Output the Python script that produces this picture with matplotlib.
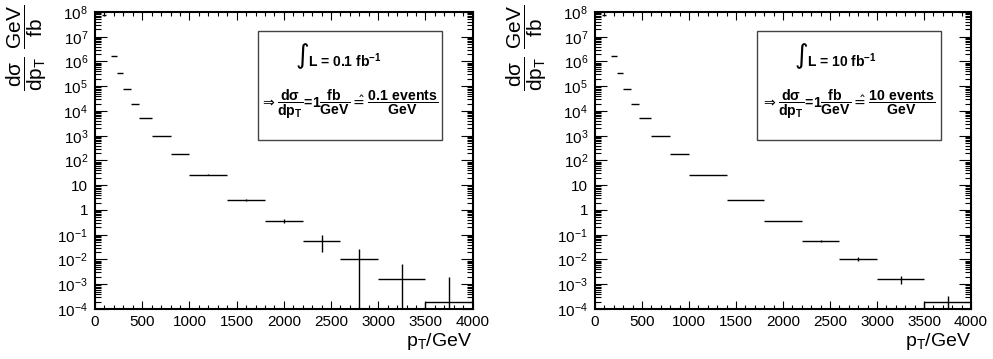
import numpy as np
import matplotlib
matplotlib.use("Agg")
import matplotlib.pyplot as plt
from matplotlib.ticker import LogLocator, MultipleLocator, FuncFormatter, NullFormatter

plt.rcParams['font.family'] = ['Liberation Sans', 'DejaVu Sans']
plt.rcParams['mathtext.fontset'] = 'dejavusans'

# bins (GeV) and cross section values (fb/GeV), same for both panels
bin_lo = [75, 170, 230, 300, 380, 470, 600, 800, 1000, 1400, 1800, 2200, 2600, 3000, 3500]
bin_hi = [120, 230, 300, 380, 470, 600, 800, 1000, 1400, 1800, 2200, 2600, 3000, 3500, 4000]
xsec = [7.8e7, 1.7e6, 3.5e5, 7.8e4, 2.0e4, 5.2e3, 9.8e2, 1.8e2, 27, 2.5, 0.36,
        0.057, 0.0105, 0.00165, 1.9e-4]

# statistical errors, 0.1 fb^-1
err_up_01 = [0, 0, 0, 0, 0, 0, 0, 0, 0.6, 0.24, 0.093, 0.038, 0.0155, 0.0052, 0.0018]
err_dn_01 = [0, 0, 0, 0, 0, 0, 0, 0, 0.6, 0.22, 0.07, 0.036, 0.0105, 0.00165, 1.9e-4]
# 10 fb^-1
err_up_10 = [0, 0, 0, 0, 0, 0, 0, 0, 0.06, 0.024, 0.009, 0.0055, 0.0021, 0.00047, 1.6e-4]
err_dn_10 = [0, 0, 0, 0, 0, 0, 0, 0, 0.06, 0.022, 0.008, 0.005, 0.0018, 0.00059, 1.9e-4]

lumi_labels = ['0.1', '10']

fig = plt.figure(figsize=(9.93, 3.59), dpi=100)
ax_pos = [[0.0957, 0.1393, 0.3803, 0.8273], [0.5992, 0.1393, 0.3787, 0.8273]]


def ylab(v, pos):
    e = int(round(np.log10(v)))
    if e == 0:
        return '1'
    if e == 1:
        return '10'
    return r'$\mathregular{10^{%d}}$' % e


def panel(pos, up, dn, lumi):
    ax = fig.add_axes(pos)
    ax.set_yscale('log')
    lo = np.array(bin_lo)
    hi = np.array(bin_hi)
    y = np.array(xsec)
    xc = (lo + hi) / 2
    ax.errorbar(xc, y, xerr=[xc - lo, hi - xc], yerr=[dn, up], fmt='none',
                ecolor='black', elinewidth=1.0, capsize=0)
    ax.vlines(lo[-1], 1e-4, y[-1], color='black', lw=1.0)
    ax.set_xlim(0, 4000)
    ax.set_ylim(1e-4, 1e8)

    ax.xaxis.set_major_locator(MultipleLocator(500))
    ax.xaxis.set_minor_locator(MultipleLocator(100))
    ax.yaxis.set_major_locator(LogLocator(base=10, numticks=30))
    ax.yaxis.set_minor_locator(LogLocator(base=10, subs=np.arange(2, 10), numticks=200))
    ax.yaxis.set_major_formatter(FuncFormatter(ylab))
    ax.yaxis.set_minor_formatter(NullFormatter())
    ax.tick_params(which='both', direction='in', top=True, right=True, width=0.8,
                   labelsize=11)
    ax.tick_params(axis='y', which='major', length=8.5, pad=5)
    ax.tick_params(axis='y', which='minor', length=4.3)
    ax.tick_params(axis='x', which='major', length=5.6, pad=4)
    ax.tick_params(axis='x', which='minor', length=2.9)
    for s in ax.spines.values():
        s.set_linewidth(1.5)

    ax.set_xlabel(r'$\mathregular{p_T/GeV}$', fontsize=14, loc='right', labelpad=2)

    # info box
    ax.add_patch(plt.Rectangle((0.431, 0.569), 0.489, 0.368, transform=ax.transAxes,
                               fill=False, edgecolor='#444444', lw=1.0))
    ax.text(0.55, 0.85, '\u222b', transform=ax.transAxes, fontsize=19,
            family='DejaVu Sans', ha='center', va='center')
    ax.text(0.565, 0.835, r'L = %s fb$\mathregular{^{-1}}$' % lumi, transform=ax.transAxes,
            fontsize=10, fontweight='bold', ha='left', va='center')
    ax.text(0.672, 0.69,
            r'$\Rightarrow\mathregular{\dfrac{d\sigma}{dp_T}\!=\!1\dfrac{fb}{GeV}}\hat{=}'
            r'\mathregular{\dfrac{%s\ events}{GeV}}$' % lumi,
            transform=ax.transAxes, fontsize=10.2, fontweight='bold',
            ha='center', va='center')
    return ax


for i in range(2):
    up = [err_up_01, err_up_10][i]
    dn = [err_dn_01, err_dn_10][i]
    ax = panel(ax_pos[i], up, dn, lumi_labels[i])
    fig.text(ax_pos[i][0] - 68 / 993, 1 - 5 / 359,
             r'$\mathregular{\dfrac{d\sigma}{dp_T}\ \dfrac{GeV}{fb}}$',
             rotation=90, fontsize=15, ha='center', va='top')

fig.savefig('out.png', dpi=100)
